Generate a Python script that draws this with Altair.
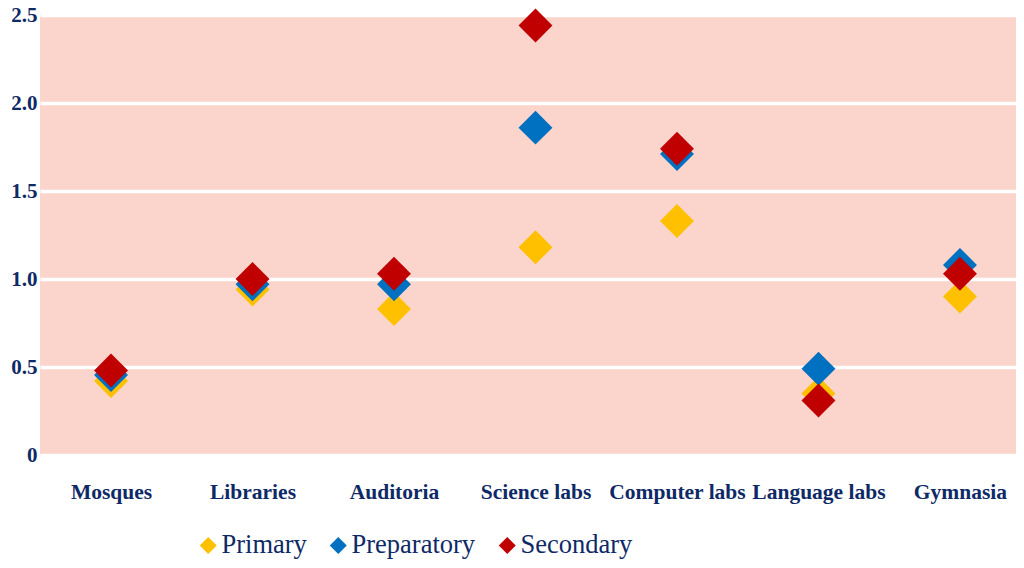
import altair as alt
import pandas as pd

categories = ["Mosques", "Libraries", "Auditoria", "Science labs", "Computer labs", "Language labs", "Gymnasia"]
series = ["Primary", "Preparatory", "Secondary"]
primary = [0.42, 0.94, 0.83, 1.18, 1.33, 0.35, 0.90]
preparatory = [0.455, 0.97, 0.97, 1.86, 1.71, 0.49, 1.08]
secondary = [0.48, 1.00, 1.03, 2.44, 1.74, 0.31, 1.03]
colors = ["#FFC000", "#0070C0", "#C00000"]

rows = []
for s, vals in zip(series, [primary, preparatory, secondary]):
    for c, v in zip(categories, vals):
        rows.append({"category": c, "level": s, "value": v})
df = pd.DataFrame(rows)

navy = "#0E2A66"

chart = alt.Chart(df).mark_point(shape="diamond", filled=True, size=1150, opacity=1).encode(
    x=alt.X("category:N", sort=categories, title=None,
            scale=alt.Scale(type="point", padding=0.449, align=0.559),
            axis=alt.Axis(labelAngle=0, labelFont="Liberation Serif", labelFontWeight="bold",
                          labelFontSize=21.5, labelColor=navy, labelPadding=26,
                          ticks=False, domain=False, grid=False)),
    y=alt.Y("value:Q", title=None,
            scale=alt.Scale(domain=[0, 2.5], nice=False),
            axis=alt.Axis(values=[0, 0.5, 1.0, 1.5, 2.0, 2.5],
                          labelExpr="datum.value == 0 ? '0' : format(datum.value, '.1f')",
                          labelFont="Liberation Serif", labelFontWeight="bold",
                          labelFontSize=21, labelColor=navy, labelPadding=3,
                          ticks=False, domain=False, grid=True,
                          gridColor="white", gridWidth=3.5, gridOpacity=1)),
    color=alt.Color("level:N", sort=series,
                    scale=alt.Scale(domain=series, range=colors),
                    legend=alt.Legend(title=None, orient="none", direction="horizontal",
                                      legendX=155, legendY=517,
                                      symbolType="diamond", symbolSize=289,
                                      symbolStrokeWidth=0, symbolOpacity=1,
                                      labelFont="Liberation Serif", labelFontSize=26.5,
                                      labelColor=navy, labelOffset=0,
                                      columnPadding=18, labelLimit=300)),
    order=alt.Order("order:Q"),
).transform_calculate(
    order="datum.level == 'Primary' ? 0 : (datum.level == 'Preparatory' ? 1 : 2)"
).properties(
    width=976, height=440,
    autosize=alt.AutoSizeParams(type="none"),
    padding={"left": 32, "top": 7, "right": 0, "bottom": 105},
).configure(background="white").configure_view(fill="#FBD5CB", stroke=None)

chart.save("out.html", embed_options={"renderer": "svg", "actions": False})
